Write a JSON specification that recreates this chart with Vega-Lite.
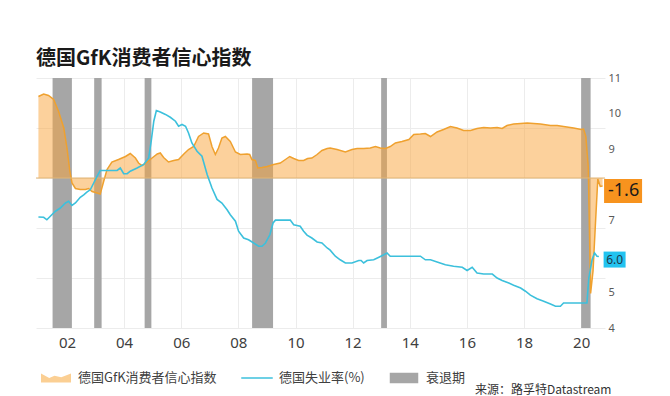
{
  "$schema": "https://vega.github.io/schema/vega-lite/v6.json",
  "width": 569,
  "height": 250,
  "autosize": {"type": "none"},
  "padding": {"left": 36, "top": 78, "right": 65, "bottom": 68},
  "background": "white",
  "config": {"view": {"stroke": null}},
  "title": {"text": "德国GfK消费者信心指数", "anchor": "start", "frame": "group", "font": "Noto Sans CJK SC", "fontSize": 20, "fontWeight": "bold", "color": "#1a1a1a", "offset": 3},
  "datasets": {
    "rec": [
      {"start": "2001-07-01", "end": "2002-03-05", "series": "衰退期"},
      {"start": "2002-12-15", "end": "2003-03-20", "series": "衰退期"},
      {"start": "2004-09-20", "end": "2004-12-15", "series": "衰退期"},
      {"start": "2008-06-25", "end": "2009-03-20", "series": "衰退期"},
      {"start": "2012-12-31", "end": "2013-03-15", "series": "衰退期"},
      {"start": "2020-01-01", "end": "2020-05-01", "series": "衰退期"}
    ],
    "gfk": [
      {"date": "2001-01-01", "value": 16.3}, {"date": "2001-03-09", "value": 16.8}, {"date": "2001-05-10", "value": 16.5},
      {"date": "2001-07-15", "value": 15.7}, {"date": "2001-09-16", "value": 13.3}, {"date": "2001-11-21", "value": 10.0},
      {"date": "2002-01-01", "value": 6.0}, {"date": "2002-02-07", "value": 1.3}, {"date": "2002-03-06", "value": -1.0},
      {"date": "2002-04-19", "value": -2.1}, {"date": "2002-06-20", "value": -2.3}, {"date": "2002-08-25", "value": -2.3},
      {"date": "2002-10-04", "value": -2.1}, {"date": "2002-11-18", "value": -2.7}, {"date": "2003-01-22", "value": -3.0},
      {"date": "2003-03-02", "value": -3.2}, {"date": "2003-04-15", "value": -0.7}, {"date": "2003-05-28", "value": 1.7},
      {"date": "2003-07-29", "value": 3.2}, {"date": "2003-10-22", "value": 3.7}, {"date": "2004-01-19", "value": 4.3},
      {"date": "2004-03-20", "value": 4.9}, {"date": "2004-05-25", "value": 4.0}, {"date": "2004-07-04", "value": 3.0},
      {"date": "2004-08-18", "value": 2.5}, {"date": "2004-10-22", "value": 3.2}, {"date": "2004-12-24", "value": 4.0},
      {"date": "2005-02-28", "value": 4.8}, {"date": "2005-04-08", "value": 5.0}, {"date": "2005-05-21", "value": 4.1},
      {"date": "2005-07-22", "value": 3.2}, {"date": "2005-09-27", "value": 3.5}, {"date": "2005-11-28", "value": 3.7},
      {"date": "2006-02-03", "value": 4.8}, {"date": "2006-04-04", "value": 5.7}, {"date": "2006-06-09", "value": 6.3},
      {"date": "2006-08-10", "value": 8.3}, {"date": "2006-10-15", "value": 9.0}, {"date": "2006-12-16", "value": 8.8},
      {"date": "2007-01-29", "value": 6.3}, {"date": "2007-03-13", "value": 4.7}, {"date": "2007-04-22", "value": 6.0},
      {"date": "2007-06-05", "value": 8.0}, {"date": "2007-07-19", "value": 8.3}, {"date": "2007-09-20", "value": 7.3},
      {"date": "2007-11-25", "value": 5.2}, {"date": "2008-01-26", "value": 4.7}, {"date": "2008-04-22", "value": 4.8},
      {"date": "2008-05-25", "value": 4.7}, {"date": "2008-06-23", "value": 3.7}, {"date": "2008-08-07", "value": 3.5},
      {"date": "2008-09-06", "value": 2.0}, {"date": "2008-10-30", "value": 2.1}, {"date": "2009-01-04", "value": 2.3},
      {"date": "2009-03-27", "value": 2.7}, {"date": "2009-06-20", "value": 3.0}, {"date": "2009-08-25", "value": 3.7},
      {"date": "2009-10-19", "value": 4.3}, {"date": "2009-12-09", "value": 3.9}, {"date": "2010-02-10", "value": 3.5},
      {"date": "2010-04-15", "value": 3.5}, {"date": "2010-06-05", "value": 3.9}, {"date": "2010-07-29", "value": 4.0},
      {"date": "2010-10-04", "value": 4.7}, {"date": "2010-12-05", "value": 5.5}, {"date": "2011-02-10", "value": 5.9},
      {"date": "2011-03-20", "value": 6.0}, {"date": "2011-06-16", "value": 5.7}, {"date": "2011-10-01", "value": 5.2},
      {"date": "2011-12-24", "value": 5.7}, {"date": "2012-02-28", "value": 5.9}, {"date": "2012-05-21", "value": 5.9},
      {"date": "2012-08-14", "value": 6.0}, {"date": "2012-10-19", "value": 6.3}, {"date": "2012-12-20", "value": 6.0},
      {"date": "2013-02-25", "value": 5.9}, {"date": "2013-04-26", "value": 6.3}, {"date": "2013-07-01", "value": 7.0},
      {"date": "2013-09-23", "value": 7.3}, {"date": "2013-12-20", "value": 7.7}, {"date": "2014-02-21", "value": 8.7},
      {"date": "2014-05-17", "value": 8.8}, {"date": "2014-07-19", "value": 8.9}, {"date": "2014-09-23", "value": 8.3},
      {"date": "2014-12-16", "value": 9.2}, {"date": "2015-03-09", "value": 9.7}, {"date": "2015-06-05", "value": 10.3},
      {"date": "2015-08-28", "value": 10.0}, {"date": "2015-11-21", "value": 9.5}, {"date": "2016-02-17", "value": 9.5},
      {"date": "2016-05-10", "value": 9.9}, {"date": "2016-08-03", "value": 10.1}, {"date": "2016-10-30", "value": 10.0},
      {"date": "2017-01-22", "value": 10.1}, {"date": "2017-03-27", "value": 9.9}, {"date": "2017-05-28", "value": 10.5},
      {"date": "2017-08-21", "value": 10.8}, {"date": "2017-11-18", "value": 10.9}, {"date": "2018-02-10", "value": 11.0},
      {"date": "2018-07-29", "value": 10.8}, {"date": "2018-12-05", "value": 10.5}, {"date": "2019-02-28", "value": 10.5},
      {"date": "2019-05-21", "value": 10.3}, {"date": "2019-09-27", "value": 10.0}, {"date": "2020-01-01", "value": 9.7},
      {"date": "2020-02-01", "value": 9.8}, {"date": "2020-03-01", "value": 8.3}, {"date": "2020-04-01", "value": 2.3},
      {"date": "2020-05-01", "value": -23.1}, {"date": "2020-06-01", "value": -18.6}, {"date": "2020-07-01", "value": -9.4},
      {"date": "2020-08-01", "value": -0.2}, {"date": "2020-09-01", "value": -1.7}, {"date": "2020-10-01", "value": -1.6}
    ],
    "unemp": [
      {"date": "2001-01-01", "value": 7.11}, {"date": "2001-03-09", "value": 7.10}, {"date": "2001-04-19", "value": 7.03},
      {"date": "2001-06-02", "value": 7.13}, {"date": "2001-08-07", "value": 7.27}, {"date": "2001-10-08", "value": 7.36},
      {"date": "2001-12-13", "value": 7.50}, {"date": "2002-01-22", "value": 7.55}, {"date": "2002-03-06", "value": 7.43},
      {"date": "2002-04-19", "value": 7.50}, {"date": "2002-06-20", "value": 7.66}, {"date": "2002-08-03", "value": 7.73},
      {"date": "2002-09-16", "value": 7.81}, {"date": "2002-10-26", "value": 7.87}, {"date": "2002-12-09", "value": 8.06},
      {"date": "2003-01-22", "value": 8.25}, {"date": "2003-03-02", "value": 8.41}, {"date": "2003-04-15", "value": 8.41},
      {"date": "2003-07-08", "value": 8.41}, {"date": "2003-10-04", "value": 8.41}, {"date": "2003-11-14", "value": 8.48},
      {"date": "2003-12-27", "value": 8.32}, {"date": "2004-02-10", "value": 8.32}, {"date": "2004-03-20", "value": 8.39},
      {"date": "2004-06-16", "value": 8.48}, {"date": "2004-09-09", "value": 8.58}, {"date": "2004-11-10", "value": 8.76},
      {"date": "2004-12-13", "value": 9.23}, {"date": "2005-01-15", "value": 9.79}, {"date": "2005-02-17", "value": 10.09},
      {"date": "2005-04-08", "value": 10.05}, {"date": "2005-06-13", "value": 9.98}, {"date": "2005-08-14", "value": 9.90},
      {"date": "2005-10-19", "value": 9.79}, {"date": "2005-11-28", "value": 9.65}, {"date": "2006-01-11", "value": 9.70},
      {"date": "2006-02-25", "value": 9.65}, {"date": "2006-04-04", "value": 9.46}, {"date": "2006-05-17", "value": 9.18},
      {"date": "2006-07-22", "value": 8.95}, {"date": "2006-09-23", "value": 8.81}, {"date": "2006-11-28", "value": 8.30},
      {"date": "2007-01-29", "value": 7.92}, {"date": "2007-04-04", "value": 7.60}, {"date": "2007-06-05", "value": 7.50},
      {"date": "2007-08-10", "value": 7.31}, {"date": "2007-09-20", "value": 7.17}, {"date": "2007-11-25", "value": 6.99},
      {"date": "2008-01-04", "value": 6.71}, {"date": "2008-03-09", "value": 6.52}, {"date": "2008-05-10", "value": 6.47},
      {"date": "2008-07-15", "value": 6.38}, {"date": "2008-09-16", "value": 6.29}, {"date": "2008-10-30", "value": 6.29},
      {"date": "2008-12-13", "value": 6.38}, {"date": "2009-02-07", "value": 6.61}, {"date": "2009-03-20", "value": 6.94},
      {"date": "2009-04-19", "value": 7.02}, {"date": "2009-06-20", "value": 7.02}, {"date": "2009-10-26", "value": 7.02},
      {"date": "2009-12-09", "value": 6.89}, {"date": "2010-03-02", "value": 6.85}, {"date": "2010-04-15", "value": 6.71},
      {"date": "2010-05-28", "value": 6.60}, {"date": "2010-07-29", "value": 6.52}, {"date": "2010-10-04", "value": 6.41},
      {"date": "2010-12-05", "value": 6.38}, {"date": "2011-02-10", "value": 6.24}, {"date": "2011-03-20", "value": 6.18},
      {"date": "2011-05-25", "value": 6.01}, {"date": "2011-07-26", "value": 5.91}, {"date": "2011-10-01", "value": 5.82},
      {"date": "2011-12-24", "value": 5.82}, {"date": "2012-03-20", "value": 5.89}, {"date": "2012-04-19", "value": 5.89},
      {"date": "2012-05-21", "value": 5.82}, {"date": "2012-07-04", "value": 5.89}, {"date": "2012-09-27", "value": 5.91},
      {"date": "2012-12-02", "value": 5.98}, {"date": "2013-02-03", "value": 6.05}, {"date": "2013-03-16", "value": 6.10},
      {"date": "2013-04-26", "value": 6.01}, {"date": "2013-07-22", "value": 6.01}, {"date": "2013-11-28", "value": 6.01},
      {"date": "2014-05-17", "value": 6.01}, {"date": "2014-07-19", "value": 5.91}, {"date": "2014-09-23", "value": 5.91},
      {"date": "2014-12-16", "value": 5.85}, {"date": "2015-04-01", "value": 5.77}, {"date": "2015-07-15", "value": 5.73},
      {"date": "2015-11-03", "value": 5.70}, {"date": "2016-01-04", "value": 5.61}, {"date": "2016-03-09", "value": 5.70},
      {"date": "2016-05-10", "value": 5.54}, {"date": "2016-08-03", "value": 5.51}, {"date": "2016-11-21", "value": 5.51},
      {"date": "2017-01-22", "value": 5.40}, {"date": "2017-03-27", "value": 5.33}, {"date": "2017-06-20", "value": 5.26},
      {"date": "2017-08-21", "value": 5.20}, {"date": "2017-11-18", "value": 5.12}, {"date": "2018-01-19", "value": 5.03},
      {"date": "2018-03-23", "value": 4.92}, {"date": "2018-06-16", "value": 4.82}, {"date": "2018-09-09", "value": 4.75},
      {"date": "2018-12-05", "value": 4.67}, {"date": "2019-02-07", "value": 4.61}, {"date": "2019-04-11", "value": 4.61},
      {"date": "2019-05-21", "value": 4.70}, {"date": "2019-09-27", "value": 4.70}, {"date": "2020-03-15", "value": 4.70},
      {"date": "2020-04-08", "value": 5.40}, {"date": "2020-05-20", "value": 5.91}, {"date": "2020-06-20", "value": 6.10},
      {"date": "2020-07-22", "value": 6.01}, {"date": "2020-08-15", "value": 6.00}
    ],
    "gfk_last": [{"date": "2020-10-01", "value": -1.6, "label": "-1.6"}],
    "unemp_last": [{"date": "2020-08-15", "value": 6.0, "label": "6.0"}]
  },
  "layer": [
    {
      "data": {"name": "rec"},
      "mark": {"type": "rect"},
      "encoding": {
        "x": {"field": "start", "type": "temporal",
          "scale": {"type": "utc", "domain": [{"year": 2000, "month": 12, "date": 1, "utc": true}, {"year": 2020, "month": 11, "date": 1, "utc": true}]},
          "axis": {"format": "%y", "tickCount": {"interval": "year", "step": 2}, "grid": true, "gridColor": "#ececec", "ticks": false, "domain": false,
            "labelFont": "Noto Sans", "labelFontSize": 15, "labelColor": "#404040", "labelPadding": 7,
            "title": "来源：路孚特Datastream", "titleFont": "Noto Sans CJK SC", "titleFontSize": 12, "titleFontWeight": "normal", "titleColor": "#333333",
            "titleX": 575, "titleY": 61, "titleAlign": "right", "titleBaseline": "middle", "titleAnchor": null}},
        "x2": {"field": "end"},
        "color": {"field": "series", "type": "nominal",
          "scale": {"domain": ["德国GfK消费者信心指数", "德国失业率(%)", "衰退期"], "range": ["#fbcf93", "#3cc0dc", "#a6a6a6"]},
          "legend": {"orient": "none", "legendX": 5, "legendY": 285, "direction": "horizontal", "title": null,
            "symbolSize": 900, "symbolStrokeWidth": 0, "symbolOpacity": 1,
            "labelFont": "Noto Sans CJK SC", "labelFontSize": 13, "labelColor": "#404040", "labelOffset": 7, "columnPadding": 24,
            "encode": {"symbols": {"update": {"shape": {"signal": "datum.index === 0 ? 'M-1,-0.3L-0.45,0.0L-0.1,-0.15L0.35,-0.05L1,-0.3L1,0.3L-1,0.3Z' : datum.index === 1 ? 'M-1.05,-0.05H1.05V0.05H-1.05Z' : 'M-0.95,-0.35H0.95V0.35H-0.95Z'"}}}}}}
      }
    },
    {
      "data": {"name": "gfk"},
      "mark": {"type": "area", "color": "#f9a43a", "fillOpacity": 0.5, "line": {"color": "#efa12f", "strokeWidth": 1.5}},
      "encoding": {
        "x": {"field": "date", "type": "temporal", "scale": {"type": "utc", "domain": [{"year": 2000, "month": 12, "date": 1, "utc": true}, {"year": 2020, "month": 11, "date": 1, "utc": true}]}},
        "y": {"field": "value", "type": "quantitative", "scale": {"domain": [-30, 20]},
          "axis": {"orient": "left", "values": [-30, -20, -10, 0, 10, 20], "labels": false, "ticks": false, "domain": false, "grid": true, "gridColor": "#ececec", "title": null}},
        "y2": {"datum": 0}
      }
    },
    {
      "data": {"name": "gfk_last"},
      "mark": {"type": "rule", "color": "#e2b574", "strokeWidth": 1},
      "encoding": {
        "y": {"datum": 0, "type": "quantitative", "scale": {"domain": [-30, 20]}, "axis": null}
      }
    },
    {
      "data": {"name": "unemp"},
      "mark": {"type": "line", "color": "#3cc0dc", "strokeWidth": 1.6},
      "encoding": {
        "x": {"field": "date", "type": "temporal", "scale": {"type": "utc", "domain": [{"year": 2000, "month": 12, "date": 1, "utc": true}, {"year": 2020, "month": 11, "date": 1, "utc": true}]}},
        "y": {"field": "value", "type": "quantitative", "scale": {"domain": [4, 11]},
          "axis": {"orient": "right", "values": [4, 5, 7, 9, 10, 11], "grid": false, "ticks": false, "domain": false,
            "labelFont": "Noto Sans", "labelFontSize": 11, "labelColor": "#595959", "labelPadding": 3, "title": null}}
      }
    },
    {
      "data": {"name": "gfk_last"},
      "mark": {"type": "point", "shape": "M-1,-0.632H1V0.632H-1Z", "size": 1444, "filled": true, "color": "#f7931e", "opacity": 1, "xOffset": 20.5, "yOffset": 5},
      "encoding": {
        "x": {"field": "date", "type": "temporal", "scale": {"type": "utc", "domain": [{"year": 2000, "month": 12, "date": 1, "utc": true}, {"year": 2020, "month": 11, "date": 1, "utc": true}]}},
        "y": {"field": "value", "type": "quantitative", "scale": {"domain": [-30, 20]}, "axis": null}
      }
    },
    {
      "data": {"name": "gfk_last"},
      "mark": {"type": "text", "font": "Noto Sans", "fontSize": 18, "color": "#1a1a1a", "xOffset": 21, "yOffset": 5, "align": "center", "baseline": "middle"},
      "encoding": {
        "x": {"field": "date", "type": "temporal", "scale": {"type": "utc", "domain": [{"year": 2000, "month": 12, "date": 1, "utc": true}, {"year": 2020, "month": 11, "date": 1, "utc": true}]}},
        "y": {"field": "value", "type": "quantitative", "scale": {"domain": [-30, 20]}, "axis": null},
        "text": {"field": "label"}
      }
    },
    {
      "data": {"name": "unemp_last"},
      "mark": {"type": "point", "shape": "M-1,-0.727H1V0.727H-1Z", "size": 484, "filled": true, "color": "#22c3f0", "opacity": 1, "xOffset": 15.7, "yOffset": 3},
      "encoding": {
        "x": {"field": "date", "type": "temporal", "scale": {"type": "utc", "domain": [{"year": 2000, "month": 12, "date": 1, "utc": true}, {"year": 2020, "month": 11, "date": 1, "utc": true}]}},
        "y": {"field": "value", "type": "quantitative", "scale": {"domain": [4, 11]}, "axis": null}
      }
    },
    {
      "data": {"name": "unemp_last"},
      "mark": {"type": "text", "font": "Noto Sans", "fontSize": 12, "color": "#1f3a4a", "xOffset": 15.7, "yOffset": 3, "align": "center", "baseline": "middle"},
      "encoding": {
        "x": {"field": "date", "type": "temporal", "scale": {"type": "utc", "domain": [{"year": 2000, "month": 12, "date": 1, "utc": true}, {"year": 2020, "month": 11, "date": 1, "utc": true}]}},
        "y": {"field": "value", "type": "quantitative", "scale": {"domain": [4, 11]}, "axis": null},
        "text": {"field": "label"}
      }
    }
  ],
  "resolve": {"scale": {"y": "independent"}}
}
